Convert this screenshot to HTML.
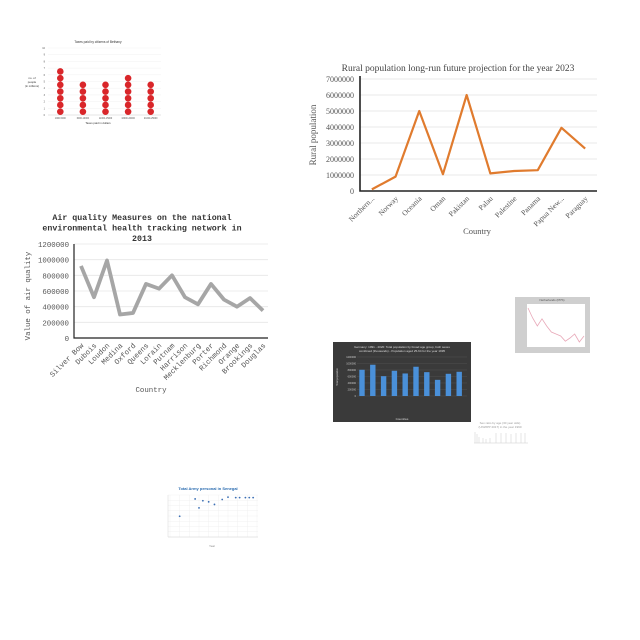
<!DOCTYPE html>
<html><head><meta charset="utf-8"><style>
body{margin:0;background:#fff;width:640px;height:640px;overflow:hidden}
svg{position:absolute;left:0;top:0}
</style></head><body>
<svg id="s" width="640" height="640" xmlns="http://www.w3.org/2000/svg">
<rect x="333" y="342" width="138" height="80" fill="#3a3a3a"/>
<text x="402" y="348" font-size="3" fill="#ddd" text-anchor="middle" font-family="Liberation Sans, sans-serif">Germany: 1991 - 2020: Total population by broad age group, both sexes</text>
<text x="402" y="352" font-size="3" fill="#ddd" text-anchor="middle" font-family="Liberation Sans, sans-serif">combined (thousands) - Population aged 25-64 for the year 1995</text>
<text x="402" y="420" font-size="3" fill="#ddd" text-anchor="middle" font-family="Liberation Sans, sans-serif">Countries</text>
<rect x="515" y="297" width="75" height="56" fill="#cfcfcf"/>
<rect x="527" y="304" width="58" height="43" fill="#fff"/>
<text x="552" y="301" font-size="3" fill="#555" text-anchor="middle" font-family="Liberation Sans, sans-serif">Netherlands (PPS)</text>
<g stroke="#ccc" stroke-width="0.5" fill="none">
<text x="500" y="424" font-size="3" fill="#999" stroke="none" text-anchor="middle" font-family="Liberation Sans, sans-serif">Sex ratio by age (30 year olds)</text>
<text x="500" y="428" font-size="3" fill="#999" stroke="none" text-anchor="middle" font-family="Liberation Sans, sans-serif">(UNWPP 2017) in the year 1990</text>
<line x1="474" y1="443" x2="528" y2="443"/>
<path d="M475 443V432M477 443V434M479 443V437M483 443V438M486 443V439M490 443V438M496 443V433M501 443V433M506 443V433M511 443V434M516 443V433M521 443V433M525 443V433"/>
</g>
<text x="208" y="490" font-size="4" fill="#2b6cb0" text-anchor="middle" font-family="Liberation Sans, sans-serif" font-weight="bold">Total Army personal in Senegal</text>
<text x="212" y="547" font-size="3" fill="#888" text-anchor="middle" font-family="Liberation Sans, sans-serif">Year</text>
</svg>
<script>
const NS='http://www.w3.org/2000/svg';
const svg=document.getElementById('s');
function mk(tag,attrs,parent){const e=document.createElementNS(NS,tag);for(const k in attrs)e.setAttribute(k,attrs[k]);(parent||svg).appendChild(e);return e;}

const ruralCountries=['Northern...','Norway','Oceania','Oman','Pakistan','Palau','Palestine','Panama','Papua New...','Paraguay'];
const ruralValues=[100000,900000,5000000,1050000,6000000,1100000,1250000,1300000,3950000,2650000];
const ruralTicks=[0,1000000,2000000,3000000,4000000,5000000,6000000,7000000];
(function(){
 const x0=360,x1=597,yb=191,yt=79,max=7000000;
 const y=v=>yb-(v/max)*(yb-yt);
 const step=(x1-x0)/ruralCountries.length;
 const x=i=>x0+step*(i+0.5);
 const serif='Liberation Serif, serif';
 let t=mk('text',{x:458,y:71,'font-size':9.5,fill:'#444','text-anchor':'middle','font-family':serif});t.textContent='Rural population long-run future projection for the year 2023';
 
 
 ruralTicks.forEach(v=>{
  const g=mk('line',{x1:x0,x2:x1,y1:y(v),y2:y(v),stroke:'#e3e3e3','stroke-width':0.8});
  
  
  const l=mk('text',{x:x0-6,y:y(v)+3,'font-size':8,fill:'#555','text-anchor':'end','font-family':serif});l.textContent=v;
  
  
 });
 const ax=mk('path',{d:`M${x0} ${yt-3}V${yb}H${x1}`,stroke:'#222','stroke-width':1.6,fill:'none'});
 
 
 const ln=mk('polyline',{points:ruralValues.map((v,i)=>x(i)+','+y(v)).join(' '),fill:'none',stroke:'#e07b2e','stroke-width':2.2,'stroke-linejoin':'round'});
 
 
 ruralCountries.forEach((c,i)=>{
  const l=mk('text',{x:x(i)+3,y:yb+8,'font-size':7.5,fill:'#555','text-anchor':'end','font-family':serif,transform:`rotate(-45 ${x(i)+3} ${yb+8})`});l.textContent=c;
  
  
 });
 let a=mk('text',{x:477,y:234,'font-size':8.5,fill:'#555','text-anchor':'middle','font-family':serif});a.textContent='Country';
 
 
 a=mk('text',{x:316,y:135,'font-size':9,fill:'#555','text-anchor':'middle','font-family':serif,transform:'rotate(-90 316 135)'});a.textContent='Rural population';
 
 
})();

const airCountries=['Silver Bow','Dubois','Loudon','Medina','Oxford','Queens','Lorain','Putnam','Harrison','Mecklenburg','Porter','Richmond','Orange','Brookings','Douglas'];
const airValues=[920000,520000,990000,300000,320000,690000,630000,800000,520000,430000,690000,490000,400000,510000,350000];
const airTicks=[0,200000,400000,600000,800000,1000000,1200000];
(function(){
 const x0=74,x1=268,yb=338,yt=244,max=1200000;
 const y=v=>yb-(v/max)*(yb-yt);
 const step=(263-81)/(airCountries.length-1);
 const x=i=>81+step*i;
 const mono='Liberation Mono, monospace';
 ['Air quality Measures on the national','environmental health tracking network in','2013'].forEach((s,k)=>{
  const t=mk('text',{x:142,y:220+k*10.5,'font-size':8.3,fill:'#333','text-anchor':'middle','font-family':mono,'font-weight':'bold'});t.textContent=s;
  
  
 });
 airTicks.forEach(v=>{
  if(v>0){const g=mk('line',{x1:x0,x2:x1,y1:y(v),y2:y(v),stroke:'#e6e6e6','stroke-width':0.8});
  
  }
  const l=mk('text',{x:x0-5,y:y(v)+3,'font-size':7.4,fill:'#555','text-anchor':'end','font-family':mono});l.textContent=v;
  
  
 });
 const ax=mk('path',{d:`M${x0} ${yt}V${yb}H${x1}`,stroke:'#222','stroke-width':1.2,fill:'none'});
 
 
 const ln=mk('polyline',{points:airValues.map((v,i)=>x(i)+','+y(v)).join(' '),fill:'none',stroke:'#a6a6a6','stroke-width':3.8,'stroke-linejoin':'round'});
 
 
 airCountries.forEach((c,i)=>{
  const l=mk('text',{x:x(i)+3,y:yb+8,'font-size':7.4,fill:'#555','text-anchor':'end','font-family':mono,transform:`rotate(-45 ${x(i)+3} ${yb+8})`});l.textContent=c;
  
  
 });
 let a=mk('text',{x:151,y:392,'font-size':7.4,fill:'#555','text-anchor':'middle','font-family':mono});a.textContent='Country';
 
 
 a=mk('text',{x:30,y:296,'font-size':7.4,fill:'#555','text-anchor':'middle','font-family':mono,transform:'rotate(-90 30 296)'});a.textContent='Value of  air quality';
 
 
})();

const taxCategories=['1000-5000','6000-10000','11000-15000','16000-20000','21000-25000'];
const taxCounts=[7,5,5,6,5];
const taxTicks=[0,1,2,3,4,5,6,7,8,9,10];
(function(){
 const x0=48,x1=161,yb=115,yt=48,max=10;
 const y=v=>yb-(v/max)*(yb-yt);
 const step=(x1-x0)/taxCategories.length;
 const x=i=>x0+step*(i+0.5)+1;
 let t=mk('text',{x:98,y:43,'font-size':3.2,fill:'#333','text-anchor':'middle','font-family':'Liberation Sans, sans-serif'});t.textContent='Taxes paid by citizens of Bethany';
 
 
 taxTicks.forEach(v=>{
  const g=mk('line',{x1:x0,x2:x1,y1:y(v),y2:y(v),stroke:v?'#eee':'#bbb','stroke-width':0.4});
  
  
  const l=mk('text',{x:x0-3,y:y(v)+1,'font-size':2.5,fill:'#555','text-anchor':'end','font-family':'Liberation Sans, sans-serif'});l.textContent=v;
  
  
 });
 taxCounts.forEach((n,i)=>{
  for(let k=0;k<n;k++){
   const d=mk('circle',{cx:x(i),cy:y(k+0.5),r:3.3,fill:'#d9262a'});
   
   
  }
  const l=mk('text',{x:x(i),y:yb+4,'font-size':2.3,fill:'#555','text-anchor':'middle','font-family':'Liberation Sans, sans-serif'});l.textContent=taxCategories[i];
  
  
 });
 let a=mk('text',{x:98,y:124,'font-size':2.8,fill:'#333','text-anchor':'middle','font-family':'Liberation Sans, sans-serif'});a.textContent='Taxes paid in dollars';
 
 
 ['no. of','people','(in millions)'].forEach((s,k)=>{
  const l=mk('text',{x:32,y:79+k*4,'font-size':2.8,fill:'#333','text-anchor':'middle','font-family':'Liberation Sans, sans-serif'});l.textContent=s;
  
  
 });
})();

const darkCategories=['A','B','C','D','E','F','G','H','I','J'];
const darkValues=[807000,962000,610000,776000,693000,900000,734000,497000,683000,745000];
const darkTicks=[0,200000,400000,600000,800000,1000000,1200000];
(function(){
 const yb=396,yt=357,max=1200000;
 const y=v=>yb-(v/max)*(yb-yt);
 const x=i=>362+i*10.8;
 darkTicks.forEach(v=>{
  const g=mk('line',{x1:357,x2:467,y1:y(v),y2:y(v),stroke:'#555','stroke-width':0.4});
  
  
  const l=mk('text',{x:356,y:y(v)+1,'font-size':2.5,fill:'#ccc','text-anchor':'end','font-family':'Liberation Sans, sans-serif'});l.textContent=v;
  
  
 });
 darkValues.forEach((v,i)=>{
  const b=mk('rect',{x:x(i)-2.7,y:y(v),width:5.4,height:yb-y(v),fill:'#4a90d9'});
  
  
 });
 const a=mk('text',{x:338,y:377,'font-size':2.5,fill:'#ccc','text-anchor':'middle','font-family':'Liberation Sans, sans-serif',transform:'rotate(-90 338 377)'});a.textContent='Total population';
 
 
})();

const pinkYears=[1,2,3,4,5,6,7,8,9,10,11,12,13];
const pinkValues=[9.5,7,5,6.8,5,3.5,3,2.5,1.2,2,3,1,2.5];
(function(){
 const x=i=>528+(i/(pinkYears.length-1))*56;
 const y=v=>346-(v/10)*40;
 const p=mk('polyline',{points:pinkValues.map((v,i)=>x(i)+','+y(v)).join(' '),fill:'none',stroke:'#e8a8b8','stroke-width':0.8});
 
 
})();

const armyYears=[1990,1998,2000,2002,2005,2008,2012,2015,2019,2021,2024,2026,2028];
const armyValues=[7.9,14.5,11.1,13.8,13.4,12.4,14.3,15.2,15,15,15,15,15];
const armyTicks=[0,2,4,6,8,10,12,14,16];
(function(){
 const x0=168,x1=258,yb=537,yt=495;
 const x=v=>170+(v-1985)/45*87;
 const y=v=>yb-(v/16)*(yb-yt);
 armyTicks.forEach(v=>{
  const g=mk('line',{x1:x0,x2:x1,y1:y(v),y2:y(v),stroke:'#eee','stroke-width':0.4});
  
  
 });
 for(let yr=1985;yr<=2030;yr+=5){
  const g=mk('line',{x1:x(yr),x2:x(yr),y1:yt,y2:yb,stroke:'#eee','stroke-width':0.4});
  
  
 }
 const ax=mk('path',{d:`M${x0} ${yt}V${yb}H${x1}`,stroke:'#ccc','stroke-width':0.4,fill:'none'});
 
 
 armyValues.forEach((v,i)=>{
  const c=mk('circle',{cx:x(armyYears[i]),cy:y(v),r:0.9,fill:'#3b6fb5'});
  
  
 });
})();
</script>
</body></html>
